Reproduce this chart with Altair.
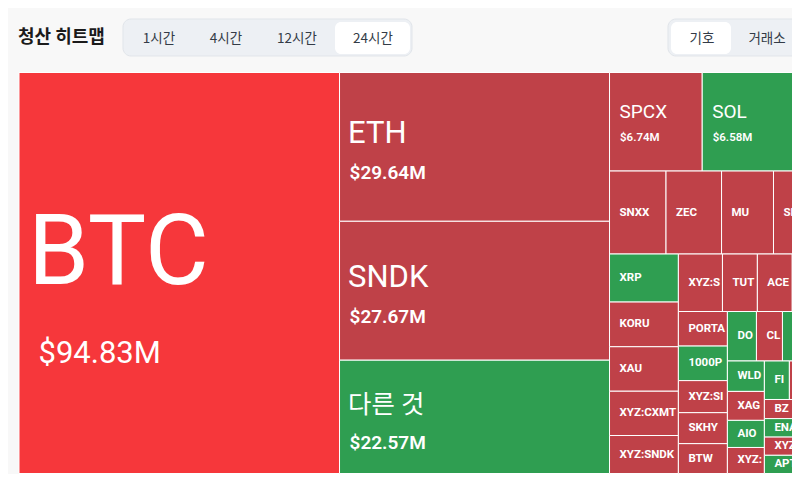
import altair as alt
import pandas as pd

# ---------------- data ----------------
names = ["BTC", "ETH", "SNDK", "다른 것",
         "SPCX", "SOL", "HYPE",
         "SNXX", "ZEC", "MU", "SKL", "LINK",
         "XRP", "KORU", "XAU", "XYZ:CXMT", "XYZ:SNDK",
         "XYZ:SMSN", "TUT", "ACE", "ASTER", "PUMP",
         "PORTAL", "1000PEPE", "XYZ:SILVER", "SKHY", "BTW",
         "DOGE", "CL", "BNB", "SUI", "AVAX",
         "WLD", "XAG", "AIO", "XYZ:GOLD",
         "FIL", "LTC", "WIF", "ARB",
         "BZ", "ENA", "XYZ:TSLA", "APT",
         "ADA", "TIA", "OP", "NEAR", "INJ"]
values = [94.83, 29.64, 27.67, 22.57,
          6.74, 6.58, 4.49,
          3.46, 3.40, 3.18, 2.50, 2.46,
          2.44, 2.27, 2.26, 2.25, 1.93,
          1.87, 1.48, 1.48, 1.33, 1.31,
          1.25, 1.25, 1.16, 1.12, 1.08,
          1.06, 0.95, 0.90, 0.88, 0.85,
          0.83, 0.79, 0.74, 0.71,
          0.71, 0.65, 0.61, 0.59,
          0.63, 0.61, 0.60, 0.60,
          0.59, 0.55, 0.50, 0.45, 0.39]
sides = ["hot", "red", "red", "green",
         "red", "green", "red",
         "red", "red", "red", "red", "red",
         "green", "red", "red", "red", "red",
         "red", "red", "red", "red", "red",
         "red", "green", "red", "red", "red",
         "green", "red", "green", "red", "green",
         "green", "red", "green", "red",
         "green", "red", "green", "red",
         "red", "green", "red", "green",
         "red", "green", "red", "green", "red"]
strips = [0, 1, 1, 1,
          2, 2, 2,
          3, 3, 3, 3, 3,
          4, 4, 4, 4, 4,
          5, 5, 5, 5, 5,
          6, 6, 6, 6, 6,
          7, 7, 7, 7, 7,
          8, 8, 8, 8,
          9, 9, 9, 9,
          10, 10, 10, 10,
          11, 11, 11, 11, 11]

tabs = ["1시간", "4시간", "12시간", "24시간"]
toggles = ["기호", "거래소"]
title = "청산 히트맵"

# ---------------- layout (plot coords = page - 8px margin) ----------------
PW, PH = 784, 466
TM_X0, TM_Y0, TM_W, TM_H = 11.0, 64.5, 835.5, 401.0


def strip_treemap(vals, grp, x0, y0, x1, y1):
    out = [None] * len(vals)
    remaining = sum(vals)
    for g in sorted(set(grp)):
        idx = [i for i, gg in enumerate(grp) if gg == g]
        gv = sum(vals[i] for i in idx)
        dx, dy = x1 - x0, y1 - y0
        if dx < dy:
            h = dy * gv / remaining
            cx = x0
            for i in idx:
                w = dx * vals[i] / gv
                out[i] = (cx, cx + w, y0, y0 + h)
                cx += w
            y0 += h
        else:
            w = dx * gv / remaining
            cy = y0
            for i in idx:
                h = dy * vals[i] / gv
                out[i] = (x0, x0 + w, cy, cy + h)
                cy += h
            x0 += w
        remaining -= gv
    return out


boxes = strip_treemap(values, strips, TM_X0, TM_Y0, TM_X0 + TM_W, TM_Y0 + TM_H)

TIERS = {
    "XL": dict(nfs=98, ndx=9, ndy=11, vfs=31, vdx=19.5, vdy=90),
    "L": dict(nfs=31, ndx=8.5, ndy=-4, vfs=19, vdx=10, vdy=32.5),
    "M": dict(nfs=19, ndx=10, ndy=-3.5, vfs=11.5, vdx=10.5, vdy=19.3),
    "S": dict(nfs=11.5, ndx=10, ndy=0, vfs=0, vdx=0, vdy=0),
}


def tier_of(v):
    if v >= 50:
        return "XL"
    if v >= 15:
        return "L"
    if v >= 5:
        return "M"
    return "S"


rows = []
for n, v, s, (x0, x1, y0, y1) in zip(names, values, sides, boxes):
    t = tier_of(v)
    st = TIERS[t]
    cy = (y0 + y1) / 2
    nfs = st["nfs"] * (0.82 if any(ord(c) > 127 for c in n) else 1.0)
    rows.append(dict(
        name=n, value=v, side=s, x=x0, x2=x1, y=y0, y2=y1, tier=t,
        nx=x0 + st["ndx"], ny=cy + st["ndy"], nfs=nfs,
        vx=x0 + st["vdx"], vy=cy + st["vdy"], vfs=st["vfs"],
        vlabel=f"${v:.2f}M", lim=max(1.0, (x1 - x0) - st["ndx"]),
    ))
df = pd.DataFrame(rows)

xs = alt.Scale(domain=[0, PW], nice=False, zero=False)
ys = alt.Scale(domain=[0, PH], nice=False, zero=False, reverse=True)
FONT = "Roboto, 'Noto Sans CJK KR', sans-serif"
KFONT = "'Noto Sans CJK KR', sans-serif"

color_scale = alt.Scale(domain=["hot", "red", "green"],
                        range=["#f6373b", "#bf4148", "#2f9e51"])

tiles = alt.Chart(df).mark_rect(stroke="white", strokeWidth=1, clip=True).encode(
    x=alt.X("x:Q", scale=xs, axis=None), x2="x2:Q",
    y=alt.Y("y:Q", scale=ys, axis=None), y2="y2:Q",
    color=alt.Color("side:N", scale=color_scale, legend=None),
)

big_names = alt.Chart(df).transform_filter("datum.tier != 'S'").mark_text(
    align="left", baseline="alphabetic", color="white", font=FONT,
    fontWeight="normal", clip=True,
).encode(
    x=alt.X("nx:Q", scale=xs, axis=None), y=alt.Y("ny:Q", scale=ys, axis=None),
    text="name:N", size=alt.Size("nfs:Q", scale=None),
)

small_names = alt.Chart(df).transform_filter("datum.tier == 'S'").mark_text(
    align="left", baseline="middle", color="white", font=FONT,
    fontWeight="bold", clip=True, ellipsis="\u200b", limit={"expr": "datum.lim"},
).encode(
    x=alt.X("nx:Q", scale=xs, axis=None), y=alt.Y("ny:Q", scale=ys, axis=None),
    text="name:N", size=alt.Size("nfs:Q", scale=None),
)

val_regular = alt.Chart(df).transform_filter("datum.tier == 'XL'").mark_text(
    align="left", baseline="alphabetic", color="white", font=FONT,
    fontWeight="normal", clip=True,
).encode(
    x=alt.X("vx:Q", scale=xs, axis=None), y=alt.Y("vy:Q", scale=ys, axis=None),
    text="vlabel:N", size=alt.Size("vfs:Q", scale=None),
)

val_bold = alt.Chart(df).transform_filter("datum.tier == 'L' || datum.tier == 'M'").mark_text(
    align="left", baseline="alphabetic", color="white", font=FONT,
    fontWeight=600, clip=True,
).encode(
    x=alt.X("vx:Q", scale=xs, axis=None), y=alt.Y("vy:Q", scale=ys, axis=None),
    text="vlabel:N", size=alt.Size("vfs:Q", scale=None),
)

# ---------------- header ----------------
hdr_boxes = pd.DataFrame([
    dict(x=115, x2=404, y=11, y2=48),
    dict(x=660, x2=812, y=11, y2=48),
])
hdr_sel = pd.DataFrame([
    dict(x=327, x2=402, y=14, y2=46),
    dict(x=663, x2=723, y=14, y2=46),
])
tab_x = [151, 218, 289, 365]
tog_x = [694, 759]
hdr_text = pd.DataFrame(
    [dict(t=t, x=x, y=31) for t, x in zip(tabs, tab_x)]
    + [dict(t=t, x=x, y=31) for t, x in zip(toggles, tog_x)]
)
title_df = pd.DataFrame([dict(t=title, x=10, y=30)])

grp_rect = alt.Chart(hdr_boxes).mark_rect(
    fill="#edf0f4", stroke="#e1e5ea", strokeWidth=1, cornerRadius=8, clip=True
).encode(
    x=alt.X("x:Q", scale=xs, axis=None), x2="x2:Q",
    y=alt.Y("y:Q", scale=ys, axis=None), y2="y2:Q",
)
sel_rect = alt.Chart(hdr_sel).mark_rect(fill="white", cornerRadius=6).encode(
    x=alt.X("x:Q", scale=xs, axis=None), x2="x2:Q",
    y=alt.Y("y:Q", scale=ys, axis=None), y2="y2:Q",
)
tab_text = alt.Chart(hdr_text).mark_text(
    align="center", baseline="middle", font=KFONT, fontSize=13.5, color="#333b47", clip=True
).encode(
    x=alt.X("x:Q", scale=xs, axis=None), y=alt.Y("y:Q", scale=ys, axis=None), text="t:N"
)
title_text = alt.Chart(title_df).mark_text(
    align="left", baseline="middle", font=KFONT, fontSize=18, fontWeight="bold", color="#1b1b1b"
).encode(
    x=alt.X("x:Q", scale=xs, axis=None), y=alt.Y("y:Q", scale=ys, axis=None), text="t:N"
)

chart = alt.layer(
    grp_rect, sel_rect, tab_text, title_text,
    tiles, big_names, small_names, val_regular, val_bold,
).properties(
    width=PW, height=PH, padding=0, autosize=alt.AutoSizeParams(type="none"),
    background="#f8f8f8",
).configure_view(stroke=None)

chart.save("out.html", embed_options={"renderer": "svg", "actions": False})
